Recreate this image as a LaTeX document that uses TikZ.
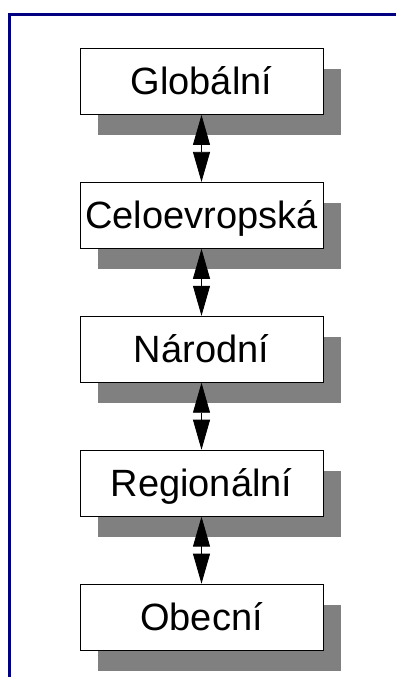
\documentclass[tikz,border=0pt]{standalone}
\usepackage{fontspec}
\setmainfont{Liberation Sans}
\usetikzlibrary{positioning,shadows,arrows.meta}
\definecolor{framenavy}{RGB}{0,0,128}
\definecolor{shadegray}{RGB}{128,128,128}

\begin{document}
\begin{tikzpicture}[x=1pt,y=1pt,
  level/.style={draw, line width=0.9pt, fill=white, minimum width=243pt, minimum height=66pt,
    inner sep=0pt, text height=27pt, text depth=0pt, font=\fontsize{38pt}{40pt}\selectfont,
    drop shadow={shadow xshift=18pt, shadow yshift=-21pt, fill=shadegray, opacity=1}},
  link/.style={line width=0.8pt, {Triangle[length=30pt,width=17pt]}-{Triangle[length=30pt,width=17pt]}}]
\useasboundingbox (0,0) rectangle (396,677);
\draw [framenavy, line width=3pt] (9.5,0) -- (9.5,662.2) -- (396,662.2);
% levels from global down to local
\node [level] (glob) at (201.5,595.5) {Globální};
\node [level, below=67pt of glob] (celo) {Celoevropská};
\node [level, below=67pt of celo] (narod) {Národní};
\node [level, below=67pt of narod] (region) {Regionální};
\node [level, below=67pt of region] (obec) {Obecní};
\draw [link] (glob) -- (celo); \draw [link] (celo) -- (narod);
\draw [link] (narod) -- (region); \draw [link] (region) -- (obec);
\end{tikzpicture}
\end{document}
